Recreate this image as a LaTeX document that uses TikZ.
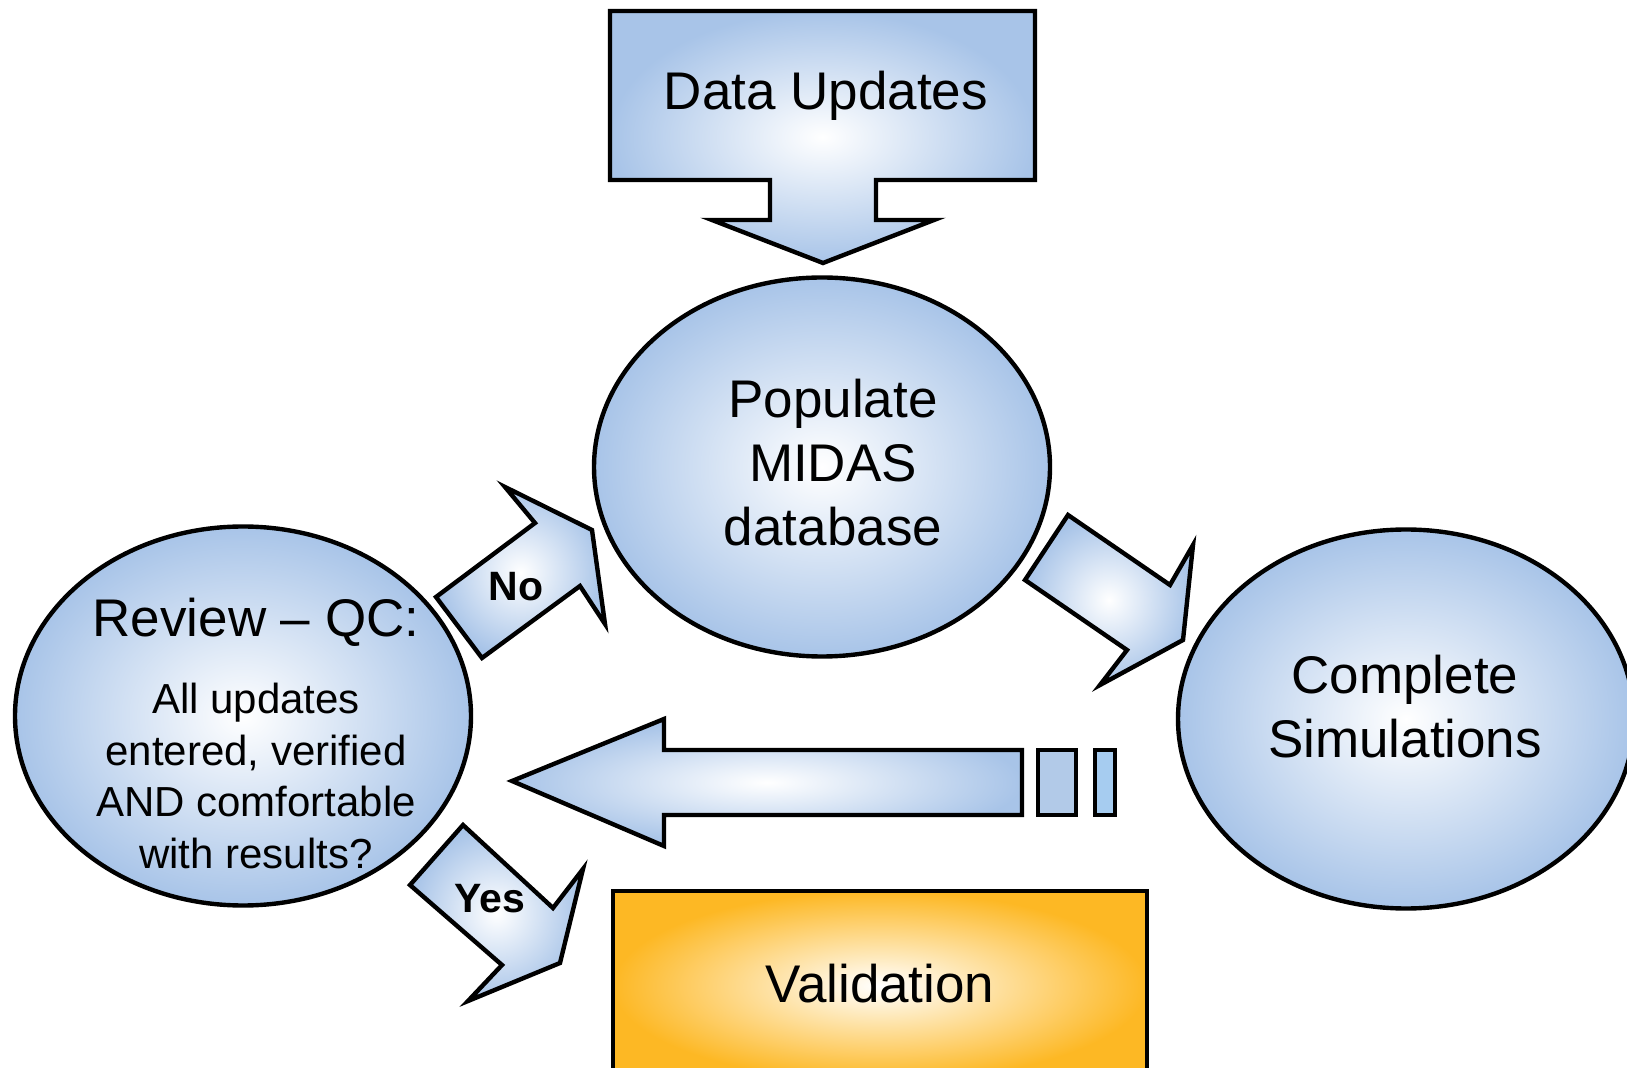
\documentclass[tikz,border=0pt]{standalone}
\usepackage{fontspec}
\setmainfont{Liberation Sans}
\usetikzlibrary{positioning,shapes.geometric}
\definecolor{qcblue}{RGB}{168,196,232}
\definecolor{qcbar}{RGB}{178,202,232}
\definecolor{qcbarb}{RGB}{166,204,240}
\definecolor{qcorange}{RGB}{253,184,36}
\tikzset{bubble/.style={ellipse, draw, line width=2.2pt, inner color=white, outer color=qcblue,
  minimum width=228pt, minimum height=189.5pt},
fatarrow/.style={draw, line width=2.2pt, line join=miter, inner color=white, outer color=qcblue},
valbox/.style={rectangle, draw, line width=2.2pt, inner color=white, outer color=qcorange,
  minimum width=267pt, minimum height=95pt},
bigtext/.style={font=\fontsize{26.5}{32}\selectfont, align=center},
smalltext/.style={font=\fontsize{21}{25.7}\selectfont, align=center},
arrowtext/.style={font=\fontsize{20.5}{24}\selectfont\bfseries}
}
\begin{document}
\begin{tikzpicture}[x=0.5pt, y=-0.5pt]
\useasboundingbox (0,0) rectangle (1627,1068);
\clip (0,0) rectangle (1627,1068);
% the three steps
\node[bubble] (populate) at (822,467) {};
\node[bubble] (review)   at (243,716) {};
\node[bubble] (complete) at (1406,719) {};
\node[valbox] (validation) at (880,986) {};

% block arrows
\path[fatarrow] (610,11) -- (1035,11) -- (1035,180) -- (876,180) -- (876,220) -- (934,220)
  -- (823,263) -- (712,220) -- (770,220) -- (770,180) -- (610,180) -- cycle;
\path[fatarrow] (1025,580) -- (1068,515) -- (1170,585) -- (1193,545) -- (1183,640)
  -- (1100,685) -- (1127,650) -- cycle;
\path[fatarrow] (512,781) -- (664,719) -- (664,750) -- (1022,750) -- (1022,815)
  -- (664,815) -- (664,846) -- cycle;
\draw[line width=2.2pt, fill=qcbar] (1038,750) rectangle (1076,815);
\draw[line width=2.2pt, fill=qcbarb] (1095,750) rectangle (1115,815);
\path[fatarrow] (436,597) -- (535,523) -- (505,487) -- (592,530) -- (605,624)
  -- (580,586) -- (482,658) -- cycle;
\path[fatarrow] (410,885) -- (463,825) -- (553,908) -- (583,869) -- (560,963)
  -- (468,1001) -- (502,965) -- cycle;

% texts
\node[bigtext] (updatestxt) at (826,96) {Data Updates};
\node[bigtext] (populatetxt) at (833,463) {Populate\\MIDAS\\database};
\node[bigtext] (completetxt) at (1405,707) {Complete\\Simulations};
\node[bigtext] (reviewtxt) at (256,622) {Review -- QC:};
\node[smalltext] (qctxt) at (256,776) {All updates\\entered, verified\\AND comfortable\\with results?};
\node[arrowtext] (notxt) at (516,587) {No};
\node[arrowtext] (yestxt) at (490,899) {Yes};
\node[bigtext] (validationtxt) at (880,984) {Validation};
\end{tikzpicture}
\end{document}
